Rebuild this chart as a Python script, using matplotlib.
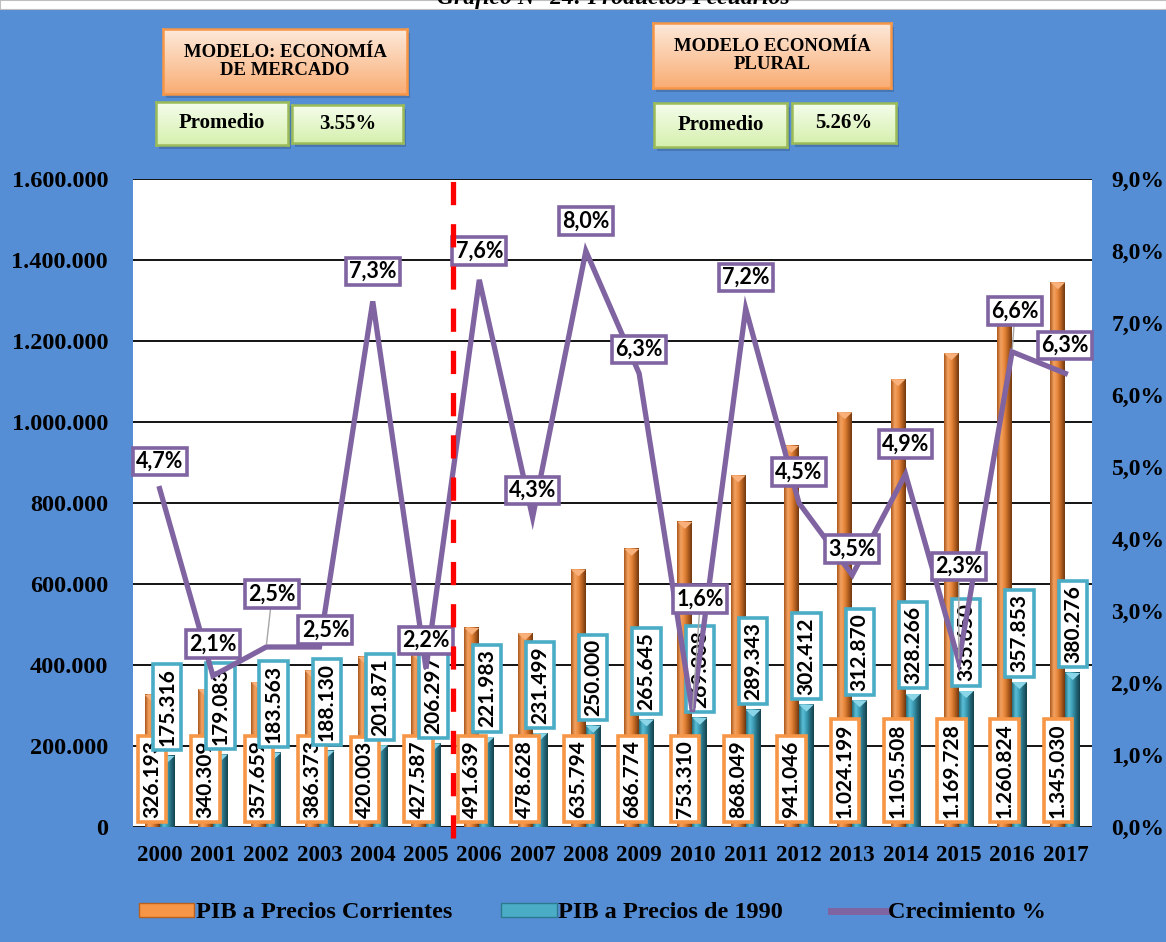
import numpy as np
import matplotlib.pyplot as plt
from matplotlib.colors import LinearSegmentedColormap
from matplotlib.patches import Rectangle, Polygon, Patch
from matplotlib.lines import Line2D

# datos
anios = [str(a) for a in range(2000, 2018)]
pib_corrientes = [326193, 340309, 357659, 386373, 420003, 427587, 491639, 478628, 635794,
                  686774, 753310, 868049, 941046, 1024199, 1105508, 1169728, 1260824, 1345030]
pib_1990 = [175316, 179083, 183563, 188130, 201871, 206297, 221983, 231499, 250000,
            265645, 269808, 289343, 302412, 312870, 328266, 335650, 357853, 380276]
crecimiento = [4.7, 2.1, 2.5, 2.5, 7.3, 2.2, 7.6, 4.3, 8.0, 6.3, 1.6, 7.2, 4.5, 3.5, 4.9, 2.3, 6.6, 6.3]
promedio_mercado = "3.55%"
promedio_plural = "5.26%"

W, H = 1166, 942
AZUL = '#558ED5'
NARANJA = '#F79646'
TURQUESA = '#4BACC6'
MORADO = '#8064A2'
SERIF = 'Liberation Serif'
SANS = 'Lato'

fig = plt.figure(figsize=(W / 100, H / 100), dpi=100, facecolor=AZUL)

# franja blanca y titulo (cortado arriba, como en el original)
fig.add_artist(Rectangle((0, 1 - 9 / H), 1, 9 / H, transform=fig.transFigure,
                         fc='white', ec='#BFBFBF', lw=0.8, zorder=1))
fig.text(0.526, 1 - 4 / H, 'Gráfico N° 24: Productos Pecuarios', ha='center', va='baseline',
         family=SERIF, weight='bold', style='italic', fontsize=17, zorder=2)

ax = fig.add_axes([133 / W, 1 - 827 / H, (1092 - 133) / W, (827 - 179) / H])
ax.set_facecolor('white')
ax2 = ax.twinx()

x = np.arange(len(anios))
ancho = 0.28
desp = 0.14
grad = np.linspace(0, 1, 64).reshape(1, -1)
cmap_nar = LinearSegmentedColormap.from_list('nar', ['#A8561A', '#F4A463', '#E8873C', '#B5601F', '#6E3710'])
cmap_tur = LinearSegmentedColormap.from_list('tur', ['#23707F', '#5CC0D8', '#3B9CB4', '#24697A', '#15414D'])
tapa_alto = 7 / 648 * 1600000


def barra(xc, h, cmap, tapa):
    ax.imshow(grad, cmap=cmap, extent=(xc - ancho / 2, xc + ancho / 2, 0, h),
              aspect='auto', interpolation='bicubic', zorder=2)
    ax.add_patch(Polygon([(xc - ancho / 2, h), (xc + ancho / 2, h), (xc, h - tapa_alto)],
                         closed=True, fc=tapa, ec='none', zorder=3))


for i in range(len(anios)):
    barra(x[i] - desp, pib_corrientes[i], cmap_nar, '#F9B07A')
    barra(x[i] + desp, pib_1990[i], cmap_tur, '#8AD6E8')

ax.set_xlim(-0.5, 17.5)
ax.set_ylim(0, 1600000)
ax.set_yticks(np.arange(0, 1600001, 200000))
ax.set_yticklabels(['0'] + [f'{v:,}'.replace(',', '.') for v in range(200000, 1600001, 200000)])
ax.set_xticks(x)
ax.set_xticklabels(anios)
ax.yaxis.grid(True, color='black', lw=1.3)
ax.set_axisbelow(True)
ax.tick_params(axis='y', length=0, pad=18)
ax.tick_params(axis='x', length=0, pad=13)
for t in ax.get_yticklabels():
    t.set_family(SERIF)
    t.set_weight('bold')
    t.set_fontsize(17.5)
for t in ax.get_xticklabels():
    t.set_family(SERIF)
    t.set_weight('bold')
    t.set_fontsize(16.5)
for s in ax.spines.values():
    s.set_visible(False)


# etiquetas de las barras
def fmt(v):
    return f'{v:,}'.replace(',', '.')


for i in range(len(anios)):
    ax.annotate(fmt(pib_corrientes[i]), (x[i] - desp, 0), xytext=(0, 6.5), textcoords='offset points',
                rotation=90, ha='center', va='bottom', family=SANS, weight='bold', fontsize=15, zorder=4,
                bbox=dict(boxstyle='square,pad=0.2', fc='white', ec=NARANJA, lw=2.6))
for i in range(len(anios)):
    ax.annotate(fmt(pib_1990[i]), (x[i] + desp, pib_1990[i]), xytext=(0, 7), textcoords='offset points',
                rotation=90, ha='center', va='bottom', family=SANS, weight='bold', fontsize=15, zorder=5,
                bbox=dict(boxstyle='square,pad=0.2', fc='white', ec=TURQUESA, lw=2.6))

# eje secundario: crecimiento
ax2.plot(x, crecimiento, color=MORADO, lw=3.8, zorder=3, solid_joinstyle='miter')
ax2.set_ylim(0, 9)
ax2.set_yticks(np.arange(0, 10))
ax2.set_yticklabels([f'{v:.1f}%'.replace('.', ',') for v in range(10)])
ax2.tick_params(axis='y', length=0, pad=14)
for t in ax2.get_yticklabels():
    t.set_family(SERIF)
    t.set_weight('bold')
    t.set_fontsize(17)
for s in ax2.spines.values():
    s.set_visible(False)

# desplazamiento de etiquetas (px): dx, dy, linea guia
desp_etq = [(0, 27, 0), (0, 32, 0), (6, 53, 1), (6, 17, 0), (0, 30, 0), (0, 28, 0),
            (0, 29, 0), (0, 27, 0), (0, 30, 0), (0, 24, 0), (8, 113, 1), (0, 31, 0),
            (0, 31, 0), (0, 26, 0), (0, 30, 0), (0, 95, 1), (3, 41, 1), (0, 28, 0)]
for i, v in enumerate(crecimiento):
    dx, dy, guia = desp_etq[i]
    flecha = dict(arrowstyle='-', color='#A6A6A6', lw=1, shrinkA=0, shrinkB=2) if guia else None
    ax2.annotate(f'{v:.1f}%'.replace('.', ','), (x[i], v), xytext=(dx * 0.72, dy * 0.72),
                 textcoords='offset points', ha='center', va='center', family=SANS, weight='bold',
                 fontsize=15.5, zorder=6, arrowprops=flecha,
                 bbox=dict(boxstyle='square,pad=0.15', fc='white', ec=MORADO, lw=2.6))

# linea roja de cambio de modelo
ax2.plot([5.5, 5.5], [-0.15, 9], color='red', lw=3.8, dashes=(4.4, 3.6), zorder=10, clip_on=False)

# leyenda
handles = [Patch(fc=NARANJA, ec='#B8601D', lw=1),
           Patch(fc=TURQUESA, ec='#2C7A8F', lw=1),
           Line2D([], [], color=MORADO, lw=5)]
fig.legend(handles, ['PIB a Precios Corrientes', 'PIB a Precios de 1990', 'Crecimiento %'],
           loc='center', bbox_to_anchor=(0.508, 1 - 913 / H), ncol=3, frameon=False,
           prop=dict(family=SERIF, weight='bold', size=17.5), handlelength=2.3, handleheight=0.5,
           handletextpad=0.05, columnspacing=2.0)


# cajas de encabezado
def caja(x0, y0, x1, y1, c_sup, c_inf, borde, texto, fs):
    fig.add_artist(Rectangle(((x0 + 3) / W, 1 - (y1 + 4) / H), (x1 - x0) / W, (y1 - y0) / H,
                             transform=fig.transFigure, fc='#2B4A78', alpha=0.35, ec='none', zorder=1))
    bx = fig.add_axes([x0 / W, 1 - y1 / H, (x1 - x0) / W, (y1 - y0) / H], zorder=3)
    cm = LinearSegmentedColormap.from_list('c', [c_inf, c_sup])
    bx.imshow(np.linspace(0, 1, 64).reshape(-1, 1), cmap=cm, aspect='auto', origin='lower',
              extent=(0, 1, 0, 1))
    bx.set_xticks([])
    bx.set_yticks([])
    for s in bx.spines.values():
        s.set_color(borde)
        s.set_linewidth(1.8)
    bx.text(0.5, 0.5, texto, ha='center', va='center', transform=bx.transAxes, family=SERIF,
            weight='bold', fontsize=fs, linespacing=1.15)


NAR_SUP, NAR_INF = '#FDE9DA', '#F9AD74'
VER_SUP, VER_INF = '#F5FDEC', '#D6F0AE'
caja(163, 29, 407, 94, NAR_SUP, NAR_INF, NARANJA, 'MODELO: ECONOMÍA\nDE MERCADO', 13.5)
caja(156, 102, 288, 145, VER_SUP, VER_INF, '#9BBB59', 'Promedio', 15)
caja(292, 105, 403, 143, VER_SUP, VER_INF, '#9BBB59', promedio_mercado, 15)
caja(653, 23, 891, 88, NAR_SUP, NAR_INF, NARANJA, 'MODELO ECONOMÍA\nPLURAL', 13.5)
caja(654, 103, 787, 147, VER_SUP, VER_INF, '#9BBB59', 'Promedio', 15)
caja(792, 103, 896, 143, VER_SUP, VER_INF, '#9BBB59', promedio_plural, 15)

fig.savefig('out.png', dpi=100, facecolor=AZUL)
